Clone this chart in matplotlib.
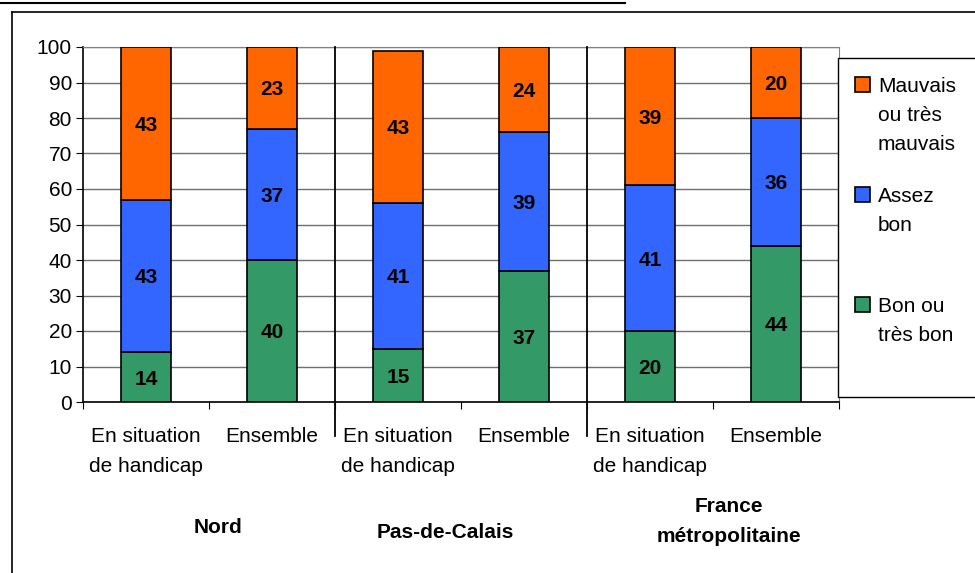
import matplotlib
matplotlib.use("Agg")
import matplotlib.pyplot as plt
import matplotlib.transforms as mtransforms
from matplotlib.patches import Rectangle
from matplotlib.lines import Line2D
import numpy as np

plt.rcParams['font.family'] = ['Liberation Sans', 'DejaVu Sans']

categories = ["En situation\nde handicap", "Ensemble",
              "En situation\nde handicap", "Ensemble",
              "En situation\nde handicap", "Ensemble"]
groups = ["Nord", "Pas-de-Calais", "France\nmétropolitaine"]
bon = [14, 40, 15, 37, 20, 44]
assez = [43, 37, 41, 39, 41, 36]
mauvais = [43, 23, 43, 24, 39, 20]
series_names = ["Mauvais\nou très\nmauvais", "Assez\nbon", "Bon ou\ntrès bon"]
colors = {"mauvais": "#FF6600", "assez": "#3366FF", "bon": "#339966"}

W, H = 975, 573
FS = 15
fig = plt.figure(figsize=(W / 100, H / 100), dpi=100)

def fx(px): return px / W
def fy(py): return 1 - py / H

ax = fig.add_axes([fx(83), fy(402), fx(839) - fx(83), fy(47) - fy(402)])
x = np.arange(len(categories))
bw = 0.4
bottom2 = np.array(bon) + np.array(assez)
ax.bar(x, bon, bw, color=colors["bon"], edgecolor="black", linewidth=1.2, zorder=3)
ax.bar(x, assez, bw, bottom=bon, color=colors["assez"], edgecolor="black", linewidth=1.2, zorder=3)
ax.bar(x, mauvais, bw, bottom=bottom2, color=colors["mauvais"], edgecolor="black", linewidth=1.2, zorder=3)

for i in range(len(x)):
    for val, base in [(bon[i], 0), (assez[i], bon[i]), (mauvais[i], bottom2[i])]:
        ax.text(x[i], base + val / 2, str(val), ha="center", va="center_baseline",
                fontsize=FS, fontweight="bold", zorder=4)

ax.set_xlim(-0.5, 5.5)
ax.set_ylim(0, 100)
ax.set_yticks(np.arange(0, 101, 10))
ax.tick_params(axis="y", labelsize=FS, length=5, direction="out", pad=3)
ax.yaxis.grid(True, color="#707070", linewidth=1, zorder=0)
ax.set_axisbelow(True)

ax.set_xticks(np.arange(-0.5, 6, 1))
ax.set_xticklabels([])
ax.tick_params(axis="x", length=5, direction="out")

trans = mtransforms.blended_transform_factory(ax.transData, fig.transFigure)
for i, c in enumerate(categories):
    for j, line in enumerate(c.split("\n")):
        ax.text(x[i], fy(442 + 30 * j), line, ha="center", va="baseline", fontsize=FS,
                transform=trans, clip_on=False)

# group separators
for sx in [1.5, 3.5]:
    ax.add_line(Line2D([sx, sx], [100, -9.5], color="black", linewidth=1.3, clip_on=False, zorder=5))

group_x = [0.571, 2.373, 4.627]
group_base = [533, 538, 512]
for gx, gb, g in zip(group_x, group_base, groups):
    for j, line in enumerate(g.split("\n")):
        ax.text(gx, fy(gb + 30 * j), line, ha="center", va="baseline", fontsize=FS,
                fontweight="bold", transform=trans, clip_on=False)

for s in ["top", "right"]:
    ax.spines[s].set_color("#808080")
for s in ["left", "bottom"]:
    ax.spines[s].set_color("black")
    ax.spines[s].set_linewidth(1.2)

# outer frame and top line
fig.add_artist(Line2D([fx(12), fx(12)], [fy(12), 0], color="black", linewidth=1.2))
fig.add_artist(Line2D([fx(12), 1], [fy(12), fy(12)], color="black", linewidth=1.2))
fig.add_artist(Line2D([0, fx(625)], [fy(2.5), fy(2.5)], color="black", linewidth=1.5))

# legend box
fig.add_artist(Rectangle((fx(838), fy(397)), fx(990) - fx(838), fy(58) - fy(397),
                         facecolor="white", edgecolor="black", linewidth=1.0, zorder=6))
legend_items = [("mauvais", series_names[0], 92), ("assez", series_names[1], 202), ("bon", series_names[2], 312)]
for key, name, base in legend_items:
    fig.add_artist(Rectangle((fx(855), fy(base)), fx(15), fy(0) - fy(15),
                             facecolor=colors[key], edgecolor="black", linewidth=1.2, zorder=7))
    for j, line in enumerate(name.split("\n")):
        fig.text(fx(878), fy(base + 29 * j), line, ha="left", va="baseline", fontsize=FS, zorder=8)

fig.savefig("out.png", dpi=100)
